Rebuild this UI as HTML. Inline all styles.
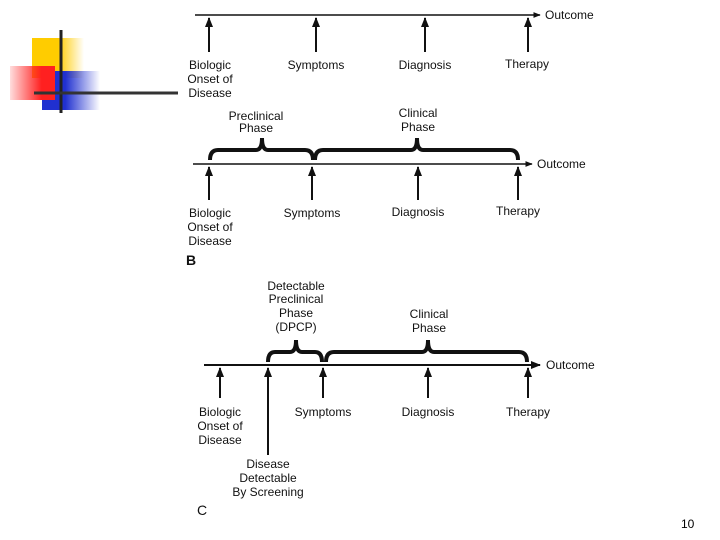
<!DOCTYPE html>
<html><head><style>body{margin:0;background:#fff}svg{display:block}</style></head><body>
<svg width="720" height="540" viewBox="0 0 720 540" xmlns="http://www.w3.org/2000/svg" font-family="Liberation Sans, sans-serif" font-size="12" fill="#111">
<defs>
<linearGradient id="gy" x1="0" x2="1"><stop offset="0.5" stop-color="#ffcc00"/><stop offset="1" stop-color="#ffcc00" stop-opacity="0"/></linearGradient>
<linearGradient id="gr" x1="1" x2="0"><stop offset="0.3" stop-color="#ff2020"/><stop offset="1" stop-color="#ff2020" stop-opacity="0.15"/></linearGradient>
<linearGradient id="gb" x1="0" x2="1"><stop offset="0.4" stop-color="#2030d0"/><stop offset="1" stop-color="#2030d0" stop-opacity="0"/></linearGradient>
<marker id="ah" viewBox="0 0 10 10" refX="9" refY="5" markerWidth="5" markerHeight="5" orient="auto"><path d="M0 1L10 5L0 9z" fill="#111"/></marker>
</defs>
<rect x="32" y="38" width="52" height="40" fill="url(#gy)"/>
<rect x="42" y="71" width="58" height="39" fill="url(#gb)"/>
<rect x="10" y="66" width="45" height="34" fill="url(#gr)"/>
<line x1="61" y1="30" x2="61" y2="113" stroke="#222" stroke-width="3"/>
<line x1="34" y1="93" x2="178" y2="93" stroke="#333" stroke-width="3"/>
<g stroke="#111" stroke-width="2" fill="none">
<line x1="195" y1="15" x2="540" y2="15" stroke-width="1.5" marker-end="url(#ah)"/>
<line x1="209" y1="52" x2="209" y2="18" marker-end="url(#ah)"/>
<line x1="316" y1="52" x2="316" y2="18" marker-end="url(#ah)"/>
<line x1="425" y1="52" x2="425" y2="18" marker-end="url(#ah)"/>
<line x1="528" y1="52" x2="528" y2="18" marker-end="url(#ah)"/>
<line x1="193" y1="164" x2="532" y2="164" stroke-width="1.5" marker-end="url(#ah)"/>
<line x1="209" y1="200" x2="209" y2="167" marker-end="url(#ah)"/>
<line x1="312" y1="200" x2="312" y2="167" marker-end="url(#ah)"/>
<line x1="418" y1="200" x2="418" y2="167" marker-end="url(#ah)"/>
<line x1="518" y1="200" x2="518" y2="167" marker-end="url(#ah)"/>
<line x1="204" y1="365" x2="540" y2="365" stroke-width="2" marker-end="url(#ah)"/>
<line x1="220" y1="398" x2="220" y2="368" marker-end="url(#ah)"/>
<line x1="268" y1="455" x2="268" y2="368" marker-end="url(#ah)"/>
<line x1="323" y1="398" x2="323" y2="368" marker-end="url(#ah)"/>
<line x1="428" y1="398" x2="428" y2="368" marker-end="url(#ah)"/>
<line x1="528" y1="398" x2="528" y2="368" marker-end="url(#ah)"/>
<g stroke-width="4">
<path d="M210 160Q210 150 218 150L256 150Q262 150 262 138Q262 150 268 150L305 150Q313 150 313 160"/>
<path d="M315 160Q315 150 323 150L411 150Q417 150 417 138Q417 150 423 150L510 150Q518 150 518 160"/>
<path d="M268 362Q268 352 275 352L290 352Q296 352 296 340Q296 352 302 352L315 352Q322 352 322 362"/>
<path d="M326 362Q326 352 334 352L422 352Q428 352 428 340Q428 352 434 352L519 352Q527 352 527 362"/>
</g>
</g>
<g text-anchor="middle">
<text x="210" y="69">Biologic</text><text x="210" y="83">Onset of</text><text x="210" y="97">Disease</text>
<text x="316" y="69">Symptoms</text><text x="425" y="69">Diagnosis</text><text x="527" y="68">Therapy</text>
<text x="256" y="120">Preclinical</text><text x="256" y="132">Phase</text>
<text x="418" y="117">Clinical</text><text x="418" y="131">Phase</text>
<text x="210" y="217">Biologic</text><text x="210" y="231">Onset of</text><text x="210" y="245">Disease</text>
<text x="312" y="217">Symptoms</text><text x="418" y="216">Diagnosis</text><text x="518" y="215">Therapy</text>
<text x="296" y="290">Detectable</text><text x="296" y="303">Preclinical</text><text x="296" y="317">Phase</text><text x="296" y="331">(DPCP)</text>
<text x="429" y="318">Clinical</text><text x="429" y="332">Phase</text>
<text x="220" y="416">Biologic</text><text x="220" y="430">Onset of</text><text x="220" y="444">Disease</text>
<text x="323" y="416">Symptoms</text><text x="428" y="416">Diagnosis</text><text x="528" y="416">Therapy</text>
<text x="268" y="468">Disease</text><text x="268" y="482">Detectable</text><text x="268" y="496">By Screening</text>
</g>
<text x="545" y="19">Outcome</text>
<text x="537" y="168">Outcome</text>
<text x="546" y="369">Outcome</text>
<text x="186" y="265" font-size="14" font-weight="bold">B</text>
<text x="197" y="515" font-size="14">C</text>
<text x="681" y="528" font-size="12" fill="#000">10</text>
</svg>
</body></html>
